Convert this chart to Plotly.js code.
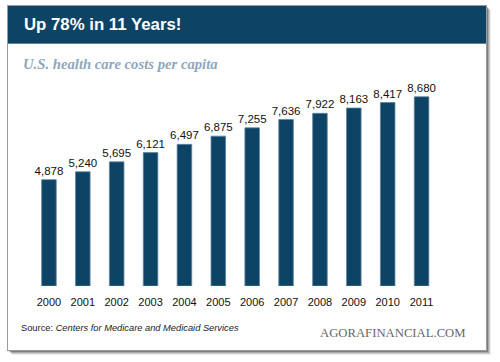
<!DOCTYPE html>
<html><head><meta charset="utf-8">
<script src="https://cdn.plot.ly/plotly-3.0.1.min.js"></script>
<style>html,body{margin:0;padding:0;background:#fff}#c{width:500px;height:362px}</style>
</head><body><div id="c"></div>
<script>
const years = ['2000','2001','2002','2003','2004','2005','2006','2007','2008','2009','2010','2011'];
const costs = [4878,5240,5695,6121,6497,6875,7255,7636,7922,8163,8417,8680];
const titleText = 'Up 78% in 11 Years!';
const subtitleText = 'U.S. health care costs per capita';
const sourceText = 'Source: <i>Centers for Medicare and Medicaid Services</i>';
const brandText = 'AGORAFINANCIAL.COM';

const W = 500, H = 362;
const px = x => x / W, py = y => 1 - y / H;
const rect = (x0,y0,x1,y1,fill,opts={}) => Object.assign({type:'rect',xref:'paper',yref:'paper',layer:'below',
  x0:px(x0),x1:px(x1),y0:py(y1),y1:py(y0),fillcolor:fill,line:{width:0}},opts);

const shapes = [];
[[5,0.08],[4,0.12],[3,0.18],[2,0.25]].forEach(([o,a])=>{
  shapes.push(rect(8+o-1,6+o-1,486+o,350+o,'rgba(0,0,0,'+a+')'));
});
shapes.push(rect(7,5,487,351,'#9a9a9a'));
shapes.push(rect(8,6,486,350,'#ffffff'));
shapes.push(rect(8,6,486,43,'#0d4466'));
shapes.push(rect(8,43,486,44,'#5d7f99'));

const trace = {
  type:'bar', x: years, y: costs,
  marker:{color:'#0d4466', line:{color:'#5f84a0', width:0.8}},
  texttemplate:'%{y:,}', textposition:'outside', cliponaxis:false, constraintext:'none',
  textfont:{family:'Liberation Sans, Arial, sans-serif', size:11.5, color:'#111'},
  hoverinfo:'none'
};

const layout = {
  width:W, height:H, margin:{l:0,r:0,t:0,b:0},
  paper_bgcolor:'rgba(0,0,0,0)', plot_bgcolor:'rgba(0,0,0,0)',
  showlegend:false, bargap:0.57,
  xaxis:{domain:[px(32),px(438.5)], type:'category', showgrid:false, zeroline:false, showline:false,
    ticks:'', ticklabelstandoff:8,
    tickfont:{family:'Liberation Sans, Arial, sans-serif', size:11, color:'#111'}},
  yaxis:{domain:[py(286),py(80)], range:[0,9450], visible:false, showgrid:false, zeroline:false},
  shapes: shapes,
  annotations:[
    {xref:'paper',yref:'paper',x:px(22),y:py(25),xanchor:'left',yanchor:'middle',showarrow:false,
      text:'<b>'+titleText+'</b>',font:{family:'Liberation Sans, Arial, sans-serif',size:16.8,color:'#ffffff'}},
    {xref:'paper',yref:'paper',x:px(21),y:py(64),xanchor:'left',yanchor:'middle',showarrow:false,
      text:'<b><i>'+subtitleText+'</i></b>',font:{family:'Liberation Serif, Times New Roman, serif',size:14.7,color:'#8fa7bb'}},
    {xref:'paper',yref:'paper',x:px(19),y:py(328),xanchor:'left',yanchor:'middle',showarrow:false,
      text:sourceText,font:{family:'Liberation Sans, Arial, sans-serif',size:9.3,color:'#222'}},
    {xref:'paper',yref:'paper',x:px(468),y:py(333),xanchor:'right',yanchor:'middle',showarrow:false,
      text:brandText,font:{family:'Liberation Serif, Times New Roman, serif',size:12.7,color:'#666'}}
  ]
};
Plotly.newPlot('c',[trace],layout,{displayModeBar:false,staticPlot:true});
</script></body></html>
